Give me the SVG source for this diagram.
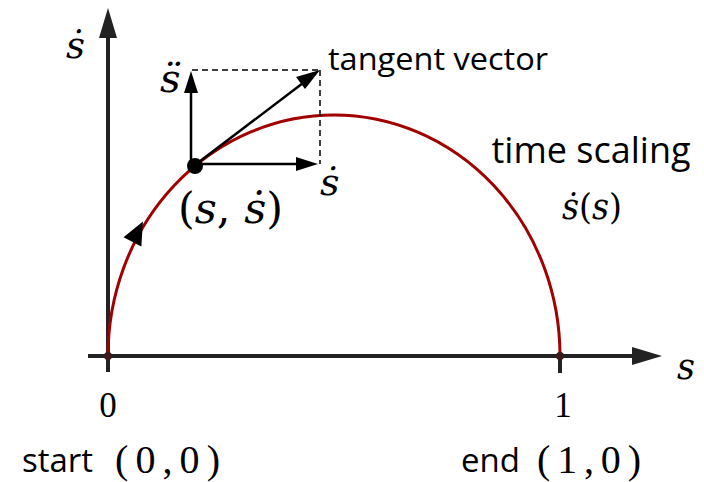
<svg xmlns="http://www.w3.org/2000/svg" width="704" height="482" viewBox="0 0 704 482">
<style>
.sans{font-family:"Open Sans","Liberation Sans",sans-serif;fill:#000}
.math{font-family:"DejaVu Serif","Liberation Serif",serif;fill:#000}
.num{font-family:"Liberation Serif","DejaVu Serif",serif;fill:#000}
.it{font-style:italic}
.axis{stroke:#222;stroke-width:4;fill:none}
.vec{stroke:#000;stroke-width:2.5;fill:none}
.dash{stroke:#000;stroke-width:1.5;stroke-dasharray:6 4;fill:none}
</style>
<rect width="704" height="482" fill="#fff"/>
<g id="connectors">
<line class="axis" x1="108" y1="372" x2="108" y2="36"/>
<polygon points="108,8 99,38 117,38" fill="#222"/>
<line class="axis" x1="88" y1="356" x2="636" y2="356"/>
<polygon points="662,356 632,347 632,365" fill="#222"/>
<line class="axis" x1="560" y1="356" x2="560" y2="373"/>
<path d="M108,356 A226,241 0 0 1 560,356" fill="none" stroke="#a00000" stroke-width="3"/>
<polygon points="0,-13 10,10 -10,10" fill="#000" transform="translate(137,233) rotate(27)"/>
<line class="dash" x1="192" y1="70" x2="320" y2="70"/>
<line class="dash" x1="320" y1="70" x2="320" y2="164"/>
<line class="vec" x1="191" y1="165" x2="191" y2="92"/>
<polygon points="191,71 184,93 198,93" fill="#000"/>
<line class="vec" x1="195" y1="164" x2="298" y2="164"/>
<polygon points="318,164 296,157 296,171" fill="#000"/>
<line class="vec" x1="195" y1="165" x2="303" y2="83"/>
<polygon points="320,70 296,77 305,89" fill="#000"/>
</g>
<g id="points">
<circle cx="108" cy="356" r="4" fill="#3a1a1a"/>
<circle cx="560" cy="356" r="4" fill="#3a1a1a"/>
<circle cx="195" cy="166" r="8" fill="#000"/>
</g>
<g id="labels">
<text class="math it" x="66" y="58" font-size="37">ṡ</text>
<text class="math it" x="677" y="379" font-size="35">s</text>
<text class="math it" x="160" y="92" font-size="40">s̈</text>
<text class="math it" x="320" y="195" font-size="38">ṡ</text>
<text class="math" x="178" y="223" font-size="43">(<tspan class="it">s</tspan>, <tspan class="it">ṡ</tspan>)</text>
<text class="sans" x="328" y="70" font-size="31" textLength="220" lengthAdjust="spacingAndGlyphs">tangent vector</text>
<text class="sans" x="591" y="163" font-size="36" text-anchor="middle">time scaling</text>
<text class="math" x="562" y="219" font-size="35" textLength="60" lengthAdjust="spacingAndGlyphs"><tspan class="it">ṡ</tspan>(<tspan class="it">s</tspan>)</text>
<text class="num" x="108" y="417" font-size="35" text-anchor="middle">0</text>
<text class="num" x="563" y="417" font-size="35" text-anchor="middle">1</text>
<text class="sans" x="22" y="472" font-size="33">start</text>
<text class="num" x="115" y="473" font-size="40" textLength="105" lengthAdjust="spacing">(0,0)</text>
<text class="sans" x="461" y="472" font-size="33">end</text>
<text class="num" x="537" y="473" font-size="40" textLength="104" lengthAdjust="spacing">(1,0)</text>
</g>
</svg>
